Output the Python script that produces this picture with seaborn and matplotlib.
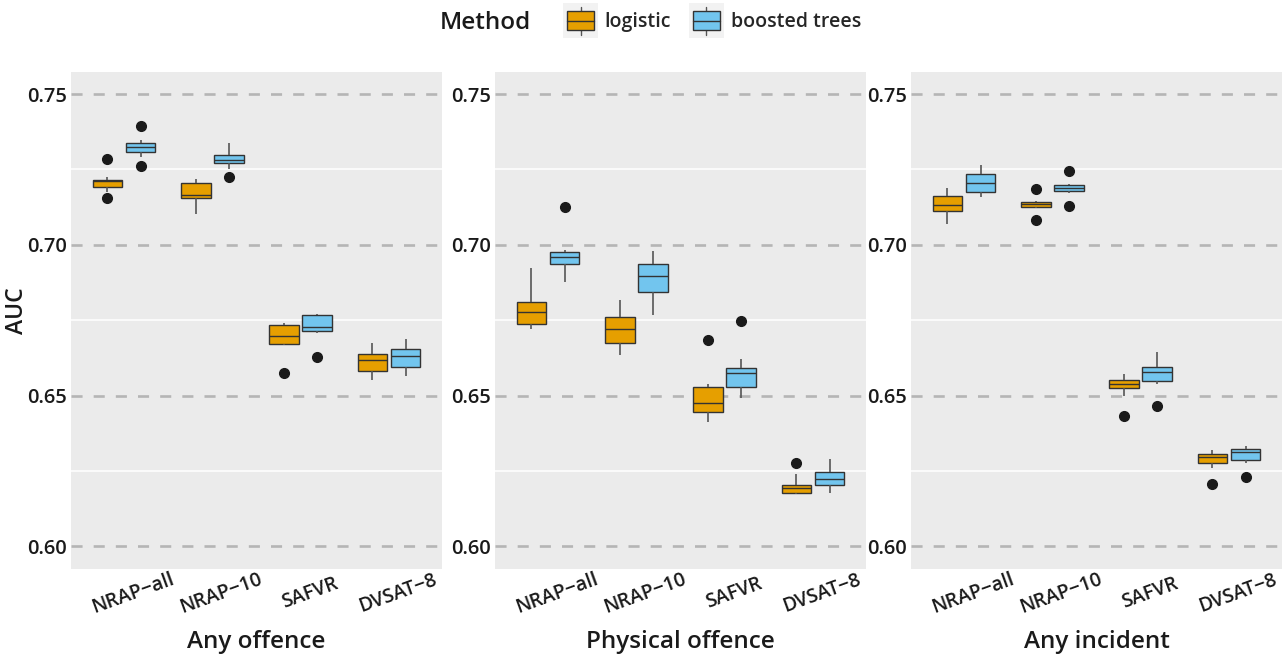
"""
AUC by risk tool and method, one panel per outcome (boxplots over CV folds)
"""
import numpy as np
import pandas as pd
import matplotlib
matplotlib.use("Agg")
import matplotlib.pyplot as plt
import matplotlib.transforms as mtransforms
from matplotlib.patches import Rectangle
from matplotlib.lines import Line2D
from matplotlib.legend_handler import HandlerBase
import seaborn as sns

# Categories
TOOLS = ["NRAP\u2212all", "NRAP\u221210", "SAFVR", "DVSAT\u22128"]
OUTCOMES = ["Any offence", "Physical offence", "Any incident"]
METHODS = ["logistic", "boosted trees"]

# AUC per fold, one list per tool
any_offence_logistic = [
    [0.7154, 0.7176, 0.7192, 0.7205, 0.7211, 0.7214, 0.7216, 0.7226, 0.7284],
    [0.7102, 0.7130, 0.7154, 0.7160, 0.7164, 0.7190, 0.7206, 0.7212, 0.7218],
    [0.6575, 0.6667, 0.6672, 0.6685, 0.6697, 0.6720, 0.6734, 0.6738, 0.6741],
    [0.6553, 0.6570, 0.6580, 0.6605, 0.6617, 0.6630, 0.6638, 0.6660, 0.6675],
]
any_offence_boosted = [
    [0.7260, 0.7290, 0.7308, 0.7318, 0.7324, 0.7330, 0.7336, 0.7347, 0.7395],
    [0.7226, 0.7253, 0.7271, 0.7276, 0.7280, 0.7290, 0.7299, 0.7320, 0.7336],
    [0.6628, 0.6707, 0.6713, 0.6720, 0.6727, 0.6750, 0.6766, 0.6770, 0.6772],
    [0.6565, 0.6580, 0.6594, 0.6615, 0.6631, 0.6645, 0.6654, 0.6670, 0.6686],
]
physical_offence_logistic = [
    [0.6720, 0.6730, 0.6736, 0.6760, 0.6776, 0.6795, 0.6812, 0.6870, 0.6922],
    [0.6634, 0.6650, 0.6673, 0.6700, 0.6720, 0.6740, 0.6762, 0.6790, 0.6816],
    [0.6413, 0.6430, 0.6444, 0.6460, 0.6477, 0.6500, 0.6528, 0.6540, 0.6684],
    [0.6173, 0.6176, 0.6178, 0.6188, 0.6194, 0.6200, 0.6204, 0.6240, 0.6278],
]
physical_offence_boosted = [
    [0.6877, 0.6920, 0.6935, 0.6950, 0.6959, 0.6970, 0.6976, 0.6982, 0.7124],
    [0.6768, 0.6810, 0.6843, 0.6870, 0.6896, 0.6920, 0.6935, 0.6960, 0.6978],
    [0.6492, 0.6510, 0.6527, 0.6560, 0.6575, 0.6585, 0.6593, 0.6622, 0.6748],
    [0.6178, 0.6190, 0.6202, 0.6215, 0.6225, 0.6235, 0.6245, 0.6270, 0.6291],
]
any_incident_logistic = [
    [0.7068, 0.7090, 0.7113, 0.7125, 0.7133, 0.7150, 0.7163, 0.7178, 0.7190],
    [0.7082, 0.7123, 0.7127, 0.7131, 0.7134, 0.7138, 0.7141, 0.7145, 0.7186],
    [0.6432, 0.6500, 0.6525, 0.6532, 0.6539, 0.6546, 0.6553, 0.6562, 0.6570],
    [0.6208, 0.6259, 0.6275, 0.6290, 0.6297, 0.6302, 0.6306, 0.6312, 0.6319],
]
any_incident_boosted = [
    [0.7158, 0.7165, 0.7174, 0.7190, 0.7204, 0.7220, 0.7234, 0.7250, 0.7265],
    [0.7129, 0.7172, 0.7179, 0.7183, 0.7187, 0.7192, 0.7197, 0.7200, 0.7244],
    [0.6467, 0.6539, 0.6549, 0.6565, 0.6577, 0.6588, 0.6595, 0.6620, 0.6645],
    [0.6230, 0.6278, 0.6288, 0.6300, 0.6312, 0.6318, 0.6322, 0.6328, 0.6334],
]

Y_TICKS = [0.60, 0.65, 0.70, 0.75]
Y_MINOR = [0.625, 0.675, 0.725]

PALETTE = {"logistic": "#E69F00", "boosted trees": "#72C5EE"}
TEXT = "#1a1a1a"
FONT = "Open Sans"

series = {
    ("Any offence", "logistic"): any_offence_logistic,
    ("Any offence", "boosted trees"): any_offence_boosted,
    ("Physical offence", "logistic"): physical_offence_logistic,
    ("Physical offence", "boosted trees"): physical_offence_boosted,
    ("Any incident", "logistic"): any_incident_logistic,
    ("Any incident", "boosted trees"): any_incident_boosted,
}

rows = []
for (outcome, method), per_tool in series.items():
    for tool, vals in zip(TOOLS, per_tool):
        for v in vals:
            rows.append({"outcome": outcome, "method": method, "tool": tool, "auc": v})
df = pd.DataFrame(rows)


class BoxKeyHandler(HandlerBase):
    """Legend key that looks like a little ggplot boxplot"""
    def create_artists(self, legend, orig_handle, xdescent, ydescent,
                       width, height, fontsize, trans):
        fc = orig_handle.get_facecolor()
        # make the key roughly square, centred on the text line
        cy = -ydescent + height / 2
        bg = Rectangle((-xdescent, cy - width / 2), width, width,
                       facecolor="#f2f2f2", edgecolor="none", transform=trans)
        bw, bh = width * 0.76, width * 0.52
        x0 = -xdescent + (width - bw) / 2
        y0 = cy - bh / 2
        box = Rectangle((x0, y0), bw, bh, facecolor=fc, edgecolor="#333333",
                        lw=1.0, transform=trans)
        xm = -xdescent + width / 2
        med = Line2D([x0, x0 + bw], [cy, cy], color="#333333", lw=1.0,
                     transform=trans)
        w1 = Line2D([xm, xm], [cy - width * 0.40, y0], color="#555555",
                    lw=1.0, transform=trans)
        w2 = Line2D([xm, xm], [y0 + bh, cy + width * 0.40], color="#555555",
                    lw=1.0, transform=trans)
        return [bg, w1, w2, box, med]


sns.set_theme(style="white")
plt.rcParams["font.family"] = [FONT, "DejaVu Sans"]

fig = plt.figure(figsize=(12.88, 6.57), dpi=100)
lefts = [71, 495, 911]
bottom = 1 - 569 / 657
height = (569 - 72) / 657
width = 371 / 1288
# nudge the rotated x labels like ggplot does
shift = mtransforms.ScaledTranslation(9 / 100, -15 / 100, fig.dpi_scale_trans)

for i, outcome in enumerate(OUTCOMES):
    ax = fig.add_axes([lefts[i] / 1288, bottom, width, height])
    ax.set_facecolor("#EBEBEB")
    sub = df[df["outcome"] == outcome]
    sns.boxplot(data=sub, x="tool", y="auc", hue="method",
                order=TOOLS, hue_order=METHODS, palette=PALETTE,
                saturation=1, width=0.75, gap=0.1,
                linecolor="#333333", linewidth=1.0, showcaps=False,
                whiskerprops={"color": "#555555", "linewidth": 1.2},
                flierprops={"marker": "o", "markersize": 7,
                            "markerfacecolor": "#1a1a1a",
                            "markeredgecolor": "#1a1a1a"},
                legend=False, ax=ax)

    ax.set_xlim(-0.6, 3.6)
    ax.set_ylim(0.5925, 0.7573)
    ax.set_yticks(Y_TICKS)
    ax.set_yticklabels([f"{t:.2f}" for t in Y_TICKS])
    ax.set_yticks(Y_MINOR, minor=True)
    ax.set_axisbelow(True)
    ax.yaxis.grid(True, which="minor", color="white", lw=1.1)
    ax.yaxis.grid(True, which="major", color="#b5b5b5", lw=1.9,
                  linestyle=(0, (4.2, 4.2)))
    ax.xaxis.grid(False)
    for s in ax.spines.values():
        s.set_visible(False)

    ax.tick_params(axis="y", which="major", length=2, width=1, color="#b5b5b5",
                   pad=1, labelsize=14.5, labelcolor=TEXT)
    ax.tick_params(axis="y", which="minor", length=0)
    ax.tick_params(axis="x", length=4, width=1, color="#555555", pad=3,
                   labelsize=14, labelcolor=TEXT)
    for lab in ax.get_xticklabels():
        lab.set_rotation(20)
        lab.set_rotation_mode("anchor")
        lab.set_ha("center")
        lab.set_va("center")
        lab.set_fontweight("semibold")
        lab.set_transform(lab.get_transform() + shift)
    for lab in ax.get_yticklabels():
        lab.set_fontweight("semibold")

    ax.set_xlabel(outcome, fontsize=17.5, fontweight="semibold", color=TEXT)
    ax.xaxis.set_label_coords(0.5, -0.1227)
    if i == 0:
        ax.set_ylabel("AUC", fontsize=16.5, fontweight="semibold", color=TEXT)
        ax.yaxis.set_label_coords(-0.113, 0.52)
    else:
        ax.set_ylabel("")

# Legend across the top
fig.text(440 / 1288, 1 - 23 / 657, "Method", fontsize=17.5, fontweight="semibold",
         color=TEXT, ha="left", va="center")
handles = [Rectangle((0, 0), 1, 1, facecolor=PALETTE[m]) for m in METHODS]
fig.legend(handles, METHODS, handler_map={Rectangle: BoxKeyHandler()},
           loc="center left", bbox_to_anchor=(563 / 1288, 1 - 22 / 657),
           ncol=2, frameon=False, prop={"weight": "semibold", "size": 14},
           handlelength=1.8, handleheight=1.0, handletextpad=0.35,
           columnspacing=0.9, borderpad=0, borderaxespad=0)

fig.savefig("out.png", dpi=100)
